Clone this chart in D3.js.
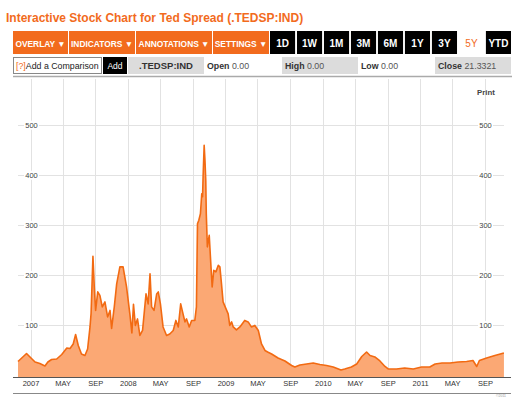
<!DOCTYPE html>
<html>
<head>
<meta charset="utf-8">
<script src="https://cdn.jsdelivr.net/npm/d3@7"></script>
<style>
  html, body { margin: 0; padding: 0; background: #fff; }
  svg { display: block; font-family: "Liberation Sans", Arial, sans-serif; }
</style>
</head>
<body>
<script>
// ---- data ----
const title = 'Interactive Stock Chart for Ted Spread (.TEDSP:IND)';
const menuLabels = ['OVERLAY', 'INDICATORS', 'ANNOTATIONS', 'SETTINGS'];
const rangeLabels = ['1D', '1W', '1M', '3M', '6M', '1Y', '3Y', '5Y', 'YTD'];
const activeRange = '5Y';
const quoteLabels = ['Open', 'High', 'Low', 'Close'];
const quoteValues = ['0.00', '0.00', '0.00', '21.3321'];
const symbol = '.TEDSP:IND';

const dates = [
  '2006-11-15', '2006-12-17', '2006-12-30', '2007-01-18', '2007-02-05', '2007-02-24',
  '2007-03-07', '2007-03-21', '2007-04-09', '2007-04-28', '2007-05-17', '2007-05-29',
  '2007-06-10', '2007-06-19', '2007-06-29', '2007-07-11', '2007-07-24', '2007-08-03',
  '2007-08-12', '2007-08-16', '2007-08-23', '2007-08-28', '2007-09-02', '2007-09-10',
  '2007-09-18', '2007-09-27', '2007-10-07', '2007-10-17', '2007-10-26', '2007-11-01',
  '2007-11-11', '2007-11-20', '2007-12-02', '2007-12-14', '2007-12-27', '2008-01-09',
  '2008-01-16', '2008-01-22', '2008-01-29', '2008-02-06', '2008-02-15', '2008-02-25',
  '2008-03-09', '2008-03-17', '2008-03-24', '2008-03-30', '2008-04-08', '2008-04-18',
  '2008-04-24', '2008-05-02', '2008-05-12', '2008-05-25', '2008-06-06', '2008-06-19',
  '2008-06-29', '2008-07-08', '2008-07-17', '2008-07-24', '2008-08-02', '2008-08-08',
  '2008-08-18', '2008-08-27', '2008-09-08', '2008-09-14', '2008-09-18', '2008-09-23',
  '2008-09-29', '2008-10-04', '2008-10-07', '2008-10-09', '2008-10-13', '2008-10-16',
  '2008-10-19', '2008-10-21', '2008-10-25', '2008-11-01', '2008-11-07', '2008-11-12',
  '2008-11-18', '2008-11-26', '2008-12-05', '2008-12-11', '2008-12-17', '2008-12-23',
  '2009-01-03', '2009-01-11', '2009-01-17', '2009-01-24', '2009-01-30', '2009-02-11',
  '2009-02-24', '2009-03-14', '2009-03-27', '2009-04-08', '2009-04-21', '2009-05-04',
  '2009-05-16', '2009-05-29', '2009-06-08', '2009-06-23', '2009-07-17', '2009-08-12',
  '2009-09-06', '2009-09-18', '2009-10-07', '2009-11-01', '2009-11-26', '2009-12-21',
  '2010-01-15', '2010-02-09', '2010-03-10', '2010-03-24', '2010-04-18', '2010-05-08',
  '2010-05-27', '2010-06-14', '2010-06-27', '2010-07-15', '2010-08-03', '2010-08-22',
  '2010-09-03', '2010-10-04', '2010-11-04', '2010-12-06', '2011-01-06', '2011-02-06',
  '2011-02-26', '2011-03-24', '2011-04-23', '2011-05-23', '2011-06-24', '2011-07-18',
  '2011-08-01', '2011-08-11', '2011-09-07', '2011-10-08', '2011-11-11'
];
const spread = [
  28, 44, 37, 27, 24, 19,
  27, 32, 33, 42, 55, 54,
  63, 82, 60, 43, 40, 53,
  97, 124, 238, 177, 130, 167,
  160, 137, 147, 117, 130, 94,
  137, 183, 217, 217, 177, 120,
  85, 142, 100, 113, 80, 90,
  163, 143, 203, 137, 130, 163,
  167, 143, 97, 80, 83, 90,
  110, 97, 143, 127, 107, 113,
  97, 110, 110, 137, 303, 310,
  323, 363, 357, 397, 460, 430,
  390, 323, 257, 280, 223, 177,
  210, 207, 220, 217, 183, 147,
  133, 123, 100, 107, 97, 91,
  97, 110, 107, 97, 100, 90,
  63, 50, 47, 43, 35, 29,
  20, 17, 21, 23, 25, 22,
  20, 17, 11, 13, 17, 23,
  38, 47, 40, 37, 29, 18,
  13, 13, 15, 13, 17, 17,
  23, 25, 25, 27, 28, 30,
  18, 30, 35, 40, 45
];
const yTicks = [100, 200, 300, 400, 500];
const xTickDates = [
  '2007-01-01', '2007-05-01', '2007-09-01', '2008-01-01', '2008-05-01', '2008-09-01',
  '2009-01-01', '2009-05-01', '2009-09-01', '2010-01-01', '2010-05-01', '2010-09-01',
  '2011-01-01', '2011-05-01', '2011-09-01'
];
const xTickLabels = ['2007', 'MAY', 'SEP', '2008', 'MAY', 'SEP', '2009', 'MAY', 'SEP',
  '2010', 'MAY', 'SEP', '2011', 'MAY', 'SEP'];

// ---- setup ----
const W = 518, H = 397;
const orange = '#f26b1d';
const parse = d3.timeParse('%Y-%m-%d');
const series = dates.map((d, i) => ({ date: parse(d), value: spread[i] }));

const svg = d3.select('body').append('svg').attr('width', W).attr('height', H);

// title
svg.append('text')
  .attr('x', 6).attr('y', 22)
  .attr('font-size', 12).attr('font-weight', 'bold')
  .attr('fill', orange)
  .text(title);

// toolbar - menus
const menuX = d3.scaleOrdinal().domain(menuLabels).range([13, 69, 136, 213]);
const menuW = [55, 66, 76, 56];
const bar = svg.append('g').attr('transform', 'translate(0,31)');
menuLabels.forEach((m, i) => {
  bar.append('rect').attr('x', menuX(m)).attr('y', 0).attr('width', menuW[i]).attr('height', 23)
    .attr('fill', orange);
  bar.append('text').attr('x', menuX(m) + menuW[i] / 2).attr('y', 15.5)
    .attr('text-anchor', 'middle').attr('font-size', 8.4).attr('font-weight', 'bold')
    .attr('fill', '#fff').text(m + ' \u25BC');
});

// toolbar - ranges
const rangeX = d3.scaleBand().domain(rangeLabels).range([270, 511]).paddingInner(0.07);
rangeLabels.forEach(r => {
  const on = r === activeRange;
  bar.append('rect').attr('x', rangeX(r)).attr('y', 0)
    .attr('width', rangeX.bandwidth()).attr('height', 23)
    .attr('fill', on ? '#fff' : '#000');
  bar.append('text').attr('x', rangeX(r) + rangeX.bandwidth() / 2).attr('y', 16)
    .attr('text-anchor', 'middle').attr('font-size', 10)
    .attr('font-weight', on ? 'normal' : 'bold')
    .attr('fill', on ? orange : '#fff').text(r);
});

// second row
const row = svg.append('g').attr('transform', 'translate(0,57)');
row.append('rect').attr('x', 13.5).attr('y', 0.5).attr('width', 88).attr('height', 16)
  .attr('fill', '#fff').attr('stroke', '#888');
const cmp = row.append('text').attr('x', 16).attr('y', 11.5).attr('font-size', 8.8);
cmp.append('tspan').attr('fill', orange).text('[?]');
cmp.append('tspan').attr('fill', '#222').text('Add a Comparison');
row.append('rect').attr('x', 103).attr('y', 0).attr('width', 24).attr('height', 17).attr('fill', '#000');
row.append('text').attr('x', 115).attr('y', 11.5).attr('text-anchor', 'middle')
  .attr('font-size', 8.5).attr('fill', '#fff').text('Add');
row.append('rect').attr('x', 128).attr('y', 0).attr('width', 76).attr('height', 17).attr('fill', '#dcdcdc');
row.append('text').attr('x', 166).attr('y', 12).attr('text-anchor', 'middle')
  .attr('font-size', 9.5).attr('font-weight', 'bold').attr('fill', '#333').text(symbol);

const qx = [204, 282, 358, 435];
const qw = [78, 76, 77, 76];
quoteLabels.forEach((q, i) => {
  row.append('rect').attr('x', qx[i]).attr('y', 0).attr('width', qw[i]).attr('height', 17)
    .attr('fill', i % 2 ? '#dcdcdc' : '#fff');
  const t = row.append('text').attr('x', qx[i] + 3).attr('y', 11.5).attr('font-size', 8.8).attr('fill', '#333');
  t.append('tspan').attr('font-weight', 'bold').text(q);
  t.append('tspan').attr('fill', '#555').text(' ' + quoteValues[i]);
});
svg.append('line').attr('x1', 13).attr('x2', 512).attr('y1', 76.5).attr('y2', 76.5)
  .attr('stroke', '#aaa').attr('stroke-width', 1.5);

// ---- chart ----
const x = d3.scaleTime()
  .domain([parse('2006-11-15'), parse('2011-11-15')])
  .range([18, 505]);
const y = d3.scaleLinear().domain([0, 500]).range([375.5, 125.2]);

const grid = svg.append('g').attr('stroke', '#e2e2e2').attr('stroke-width', 1);
grid.selectAll('line.v').data(xTickDates).enter().append('line')
  .attr('class', 'v')
  .attr('x1', d => Math.round(x(parse(d))) + 0.5).attr('x2', d => Math.round(x(parse(d))) + 0.5)
  .attr('y1', 79).attr('y2', 377);
grid.selectAll('line.h').data(yTicks).enter().append('line')
  .attr('class', 'h')
  .attr('x1', 18).attr('x2', 504)
  .attr('y1', d => Math.round(y(d)) + 0.5).attr('y2', d => Math.round(y(d)) + 0.5);

// area + line
const area = d3.area().x(d => x(d.date)).y0(y(-3)).y1(d => y(d.value));
const line = d3.line().x(d => x(d.date)).y(d => y(d.value));
svg.append('path').datum(series).attr('d', area).attr('fill', '#fba874');
svg.append('path').datum(series).attr('d', line)
  .attr('fill', 'none').attr('stroke', '#f26a12').attr('stroke-width', 1.6)
  .attr('stroke-linejoin', 'round');

// y labels on both sides
[parse('2007-01-01'), parse('2011-09-01')].forEach(dx => {
  const g = svg.append('g');
  yTicks.forEach(v => {
    const cx = Math.round(x(dx)) + 0.5, cy = y(v);
    g.append('rect').attr('x', cx - 7.5).attr('y', cy - 4.5).attr('width', 15).attr('height', 9)
      .attr('fill', '#fff');
    g.append('text').attr('x', cx).attr('y', cy + 2.7).attr('text-anchor', 'middle')
      .attr('font-size', 7.5).attr('fill', '#444').text(v);
  });
});

// x axis
svg.append('line').attr('x1', 13).attr('x2', 511).attr('y1', 377.5).attr('y2', 377.5)
  .attr('stroke', '#555').attr('stroke-width', 1);
svg.append('g').selectAll('text').data(xTickDates).enter().append('text')
  .attr('x', d => x(parse(d)) + 0.5).attr('y', 386)
  .attr('text-anchor', 'middle').attr('font-size', 7.5).attr('fill', '#333')
  .text((d, i) => xTickLabels[i]);
svg.append('line').attr('x1', 13).attr('x2', 511).attr('y1', 393.5).attr('y2', 393.5)
  .attr('stroke', '#888').attr('stroke-width', 1);

svg.append('text').attr('x', 486).attr('y', 95).attr('text-anchor', 'middle')
  .attr('font-size', 7.8).attr('font-weight', 'bold').attr('fill', '#444').text('Print');
svg.append('text').attr('x', 501).attr('y', 397).attr('text-anchor', 'middle')
  .attr('font-size', 3.5).attr('fill', '#999').text('©2011');
</script>
</body>
</html>
